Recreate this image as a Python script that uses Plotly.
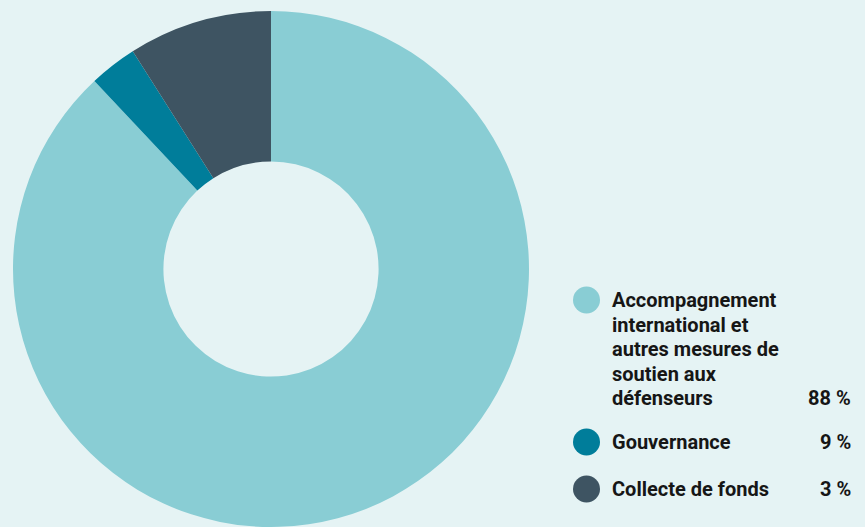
import plotly.graph_objects as go

W, H = 865, 527

# ---- data ----
categories = [
    "Accompagnement<br>international et<br>autres mesures de<br>soutien aux<br>défenseurs",
    "Gouvernance",
    "Collecte de fonds",
]
shares = [88, 9, 3]                     # percentages printed in the legend
legend_colors = ["#89CDD4", "#007D9A", "#3E5462"]

# slices as drawn in the donut (clockwise from 12 o'clock)
slice_values = [88, 3, 9]
slice_colors = ["#89CDD4", "#007D9A", "#3E5462"]

BG = "#E5F3F4"
TXT = "#161616"
FONT = "Roboto"
FS = 20

fig = go.Figure()
fig.add_trace(go.Pie(
    values=slice_values,
    marker=dict(colors=slice_colors, line=dict(width=0)),
    hole=0.417,
    sort=False,
    direction="clockwise",
    rotation=0,
    textinfo="none",
    hoverinfo="skip",
    showlegend=False,
    domain=dict(x=[13 / W, 529 / W], y=[0, 516 / H]),
))

# ---- custom legend ----
def px(x):
    return x / W

def py(y):
    return 1 - y / H

circle_cx = 586.5
circle_r = 13.5
text_x = 610
pct_x = 853
line_h = 24.5
# vertical centre of circle / first text line for each row
rows = [300, 442, 489]

annotations = []
shapes = []
for cat, pct, col, cy in zip(categories, shares, legend_colors, rows):
    shapes.append(dict(
        type="circle", xref="paper", yref="paper",
        x0=px(circle_cx - circle_r), x1=px(circle_cx + circle_r),
        y0=py(cy + circle_r), y1=py(cy - circle_r),
        fillcolor=col, line=dict(width=0),
    ))
    lines = cat.split("<br>")
    for i, ln in enumerate(lines):
        annotations.append(dict(
            xref="paper", yref="paper", x=px(text_x), y=py(cy + i * line_h),
            xanchor="left", yanchor="middle", align="left",
            text=f"<b>{ln}</b>", showarrow=False,
            font=dict(family=FONT, size=FS, color=TXT),
        ))
    annotations.append(dict(
        xref="paper", yref="paper", x=px(pct_x), y=py(cy + (len(lines) - 1) * line_h),
        xanchor="right", yanchor="middle", align="right",
        text=f"<b>{pct} %</b>", showarrow=False,
        font=dict(family=FONT, size=FS, color=TXT),
    ))

fig.update_layout(
    width=W, height=H,
    margin=dict(l=0, r=0, t=0, b=0),
    paper_bgcolor=BG, plot_bgcolor=BG,
    shapes=shapes, annotations=annotations,
)

fig.write_html("out.html")
